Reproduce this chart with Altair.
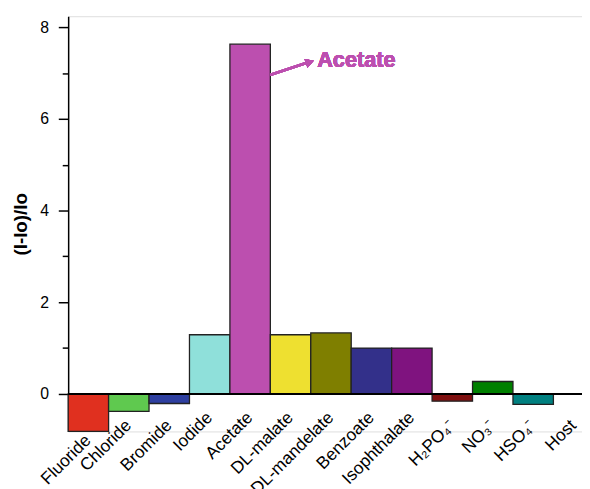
import altair as alt
import pandas as pd

categories = ["Fluoride", "Chloride", "Bromide", "Iodide", "Acetate", "DL-malate",
              "DL-mandelate", "Benzoate", "Isophthalate", "H₂PO₄⁻", "NO₃⁻", "HSO₄⁻", "Host"]
values = [-0.82, -0.38, -0.21, 1.29, 7.63, 1.29, 1.33, 1.0, 1.0, -0.16, 0.27, -0.23, 0.0]
colors = ["#E0301F", "#5FC94F", "#2E3FA0", "#8FE0DA", "#BC4FAF", "#EEE030",
          "#7F7F00", "#33308A", "#7F137F", "#7F1010", "#008000", "#008080", "#FFFFFF"]
y_ticks = [0, 1, 2, 3, 4, 5, 6, 7, 8]
low_labels = ["Chloride", "Bromide", "H₂PO₄⁻", "NO₃⁻", "HSO₄⁻", "Host"]

df = pd.DataFrame({"anion": categories, "ratio": values, "color": colors})

FONT = "Liberation Sans"
MAG = "#BC4FAF"

low_test = "indexof([" + ",".join("'" + s + "'" for s in low_labels) + "], datum.value) >= 0"

x_enc = alt.X(
    "anion:N", sort=categories,
    scale=alt.Scale(range=[0, 533], paddingInner=0, paddingOuter=0),
    axis=alt.Axis(title=None, labelAngle=-45, labelAlign="right", labelBaseline="middle",
                  labelFontSize=17.5, labelFont=FONT, labelColor="black",
                  domain=False, ticks=False,
                  labelPadding={"condition": [
                      {"test": "datum.value === 'Fluoride'", "value": 6},
                      {"test": low_test, "value": -9}],
                      "value": -17}),
)
y_enc = alt.Y(
    "ratio:Q",
    scale=alt.Scale(domain=[-0.82, 8.24], nice=False, zero=False),
    axis=alt.Axis(title="(I-Io)/Io", values=y_ticks,
                  labelExpr="datum.value % 2 === 0 ? datum.label : ''",
                  tickSize={"condition": {"test": "datum.value % 2 !== 0", "value": 6}, "value": 10},
                  tickColor="black", tickWidth=1.5, domainColor="black", domainWidth=1.5,
                  labelFontSize=16, labelFont=FONT, labelColor="black", labelPadding=10,
                  titleFont=FONT, titleFontSize=19, titleFontWeight="bold", titleColor="black",
                  titlePadding=9, grid=False),
)

bars = alt.Chart(df).mark_bar(stroke="#222222", strokeWidth=1.3).encode(
    x=x_enc, y=y_enc, color=alt.Color("color:N", scale=None, legend=None)
)

zero = alt.Chart(df).mark_rule(color="black", strokeWidth=2).encode(y=alt.datum(0))

label = alt.Chart(df).mark_text(
    text="Acetate", align="left", baseline="middle", fontSize=22, fontWeight="bold",
    font=FONT, color=MAG, dx=27
).encode(x=alt.datum("DL-malate"), y=alt.datum(7.28))

arrow_line = alt.Chart(df).mark_rule(color=MAG, strokeWidth=2.5).encode(
    x=alt.value(205), x2=alt.value(244), y=alt.datum(6.96), y2=alt.datum(7.24)
)
arrow_head = alt.Chart(df).mark_point(
    shape="triangle-right", filled=True, color=MAG, size=90, angle=341, opacity=1
).encode(x=alt.value(245), y=alt.datum(7.24))

chart = alt.layer(bars, zero, arrow_line, arrow_head, label).properties(
    width=521, height=421,
    autosize=alt.AutoSizeParams(type="none"),
    padding={"left": 61, "top": 5, "right": 0, "bottom": 55},
).configure_view(stroke=None).configure(background="white")

chart.save("out.html", embed_options={"renderer": "svg", "actions": False})
